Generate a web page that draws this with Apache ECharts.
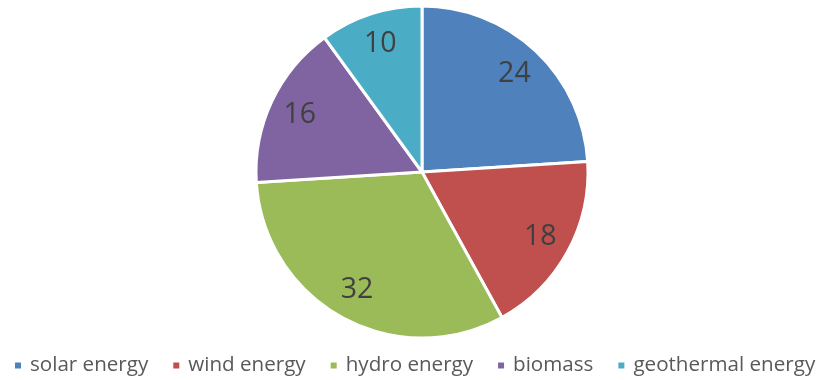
<!DOCTYPE html>
<html>
<head>
<meta charset="utf-8">
<script src="https://cdn.jsdelivr.net/npm/echarts@6/dist/echarts.min.js"></script>
<style>html,body{margin:0;padding:0;background:#fff}#c{width:818px;height:380px}</style>
</head>
<body>
<div id="c"></div>
<script>
const categories = ['solar energy', 'wind energy', 'hydro energy', 'biomass', 'geothermal energy'];
const values = [24, 18, 32, 16, 10];
const colors = ['#4F81BD', '#C0504D', '#9BBB59', '#8064A2', '#4BACC6'];

const chart = echarts.init(document.getElementById('c'), null, {renderer: 'canvas'});
const data = categories.map((n, i) => ({name: n, value: values[i]}));
chart.setOption({
  animation: false,
  color: colors,
  legend: {
    data: categories,
    top: 355,
    left: 13,
    padding: 0,
    icon: 'rect',
    itemWidth: 8,
    itemHeight: 8,
    itemGap: 23,
    textStyle: {fontFamily: 'Open Sans', fontSize: 20.6, color: '#595959', padding: [0, 0, 0, 3]}
  },
  series: [
    {
      type: 'pie',
      center: [422, 172],
      radius: [0, 166],
      startAngle: 90,
      clockwise: true,
      silent: true,
      itemStyle: {borderColor: '#fff', borderWidth: 3},
      label: {show: false},
      labelLine: {show: false},
      data: data
    },
    {
      type: 'pie',
      center: [422, 172],
      radius: [98, 166],
      startAngle: 90,
      clockwise: true,
      silent: true,
      itemStyle: {color: 'rgba(0,0,0,0)', borderWidth: 0},
      label: {show: true, position: 'inside', formatter: '{c}', fontFamily: 'Open Sans', fontSize: 28.5, color: '#404040', padding: [7, 0, 0, 0]},
      labelLine: {show: false},
      data: data
    }
  ]
});
</script>
</body>
</html>
